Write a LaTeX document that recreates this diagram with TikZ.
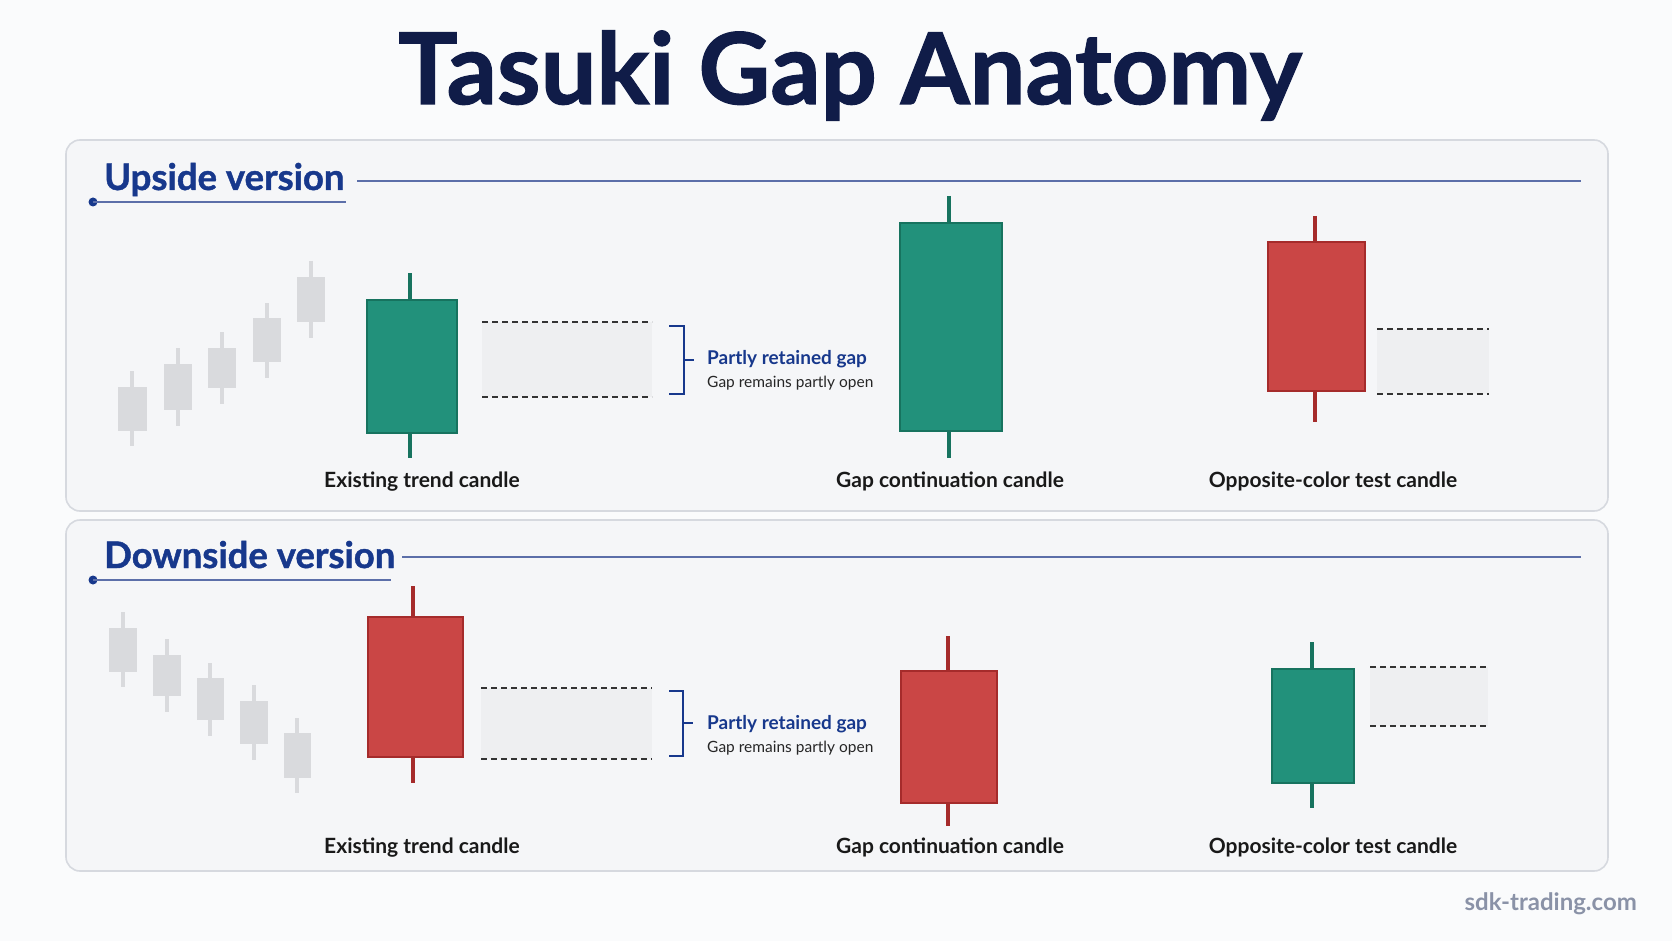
\documentclass[tikz,border=0pt]{standalone}
\usepackage{fontspec}
\setmainfont{Lato}
\newfontfamily\heavyfont{Lato}[BoldFeatures={FakeBold=1.2}]
\usepackage{tikz}
\usetikzlibrary{positioning}
\definecolor{ink}{HTML}{101C48}
\definecolor{navy}{HTML}{17388C}
\definecolor{rulecol}{HTML}{5C6FA9}
\definecolor{bullfill}{HTML}{22917B}
\definecolor{bullline}{HTML}{17735F}
\definecolor{bearfill}{HTML}{CA4645}
\definecolor{bearline}{HTML}{A52B2B}
\definecolor{ghostcol}{HTML}{D9DADD}
\definecolor{gapfill}{HTML}{EEEFF1}
\definecolor{panelfill}{HTML}{F5F6F8}
\definecolor{panelline}{HTML}{D6D9DF}
\definecolor{pagebg}{HTML}{FAFBFC}
\definecolor{markcol}{HTML}{8A92A7}

\begin{document}
\begin{tikzpicture}[
  x=1pt, y=-1pt,
  panel/.style={draw=panelline,fill=panelfill,line width=1.6pt,rounded corners=14pt},
  heading/.style={anchor=base west,inner sep=0pt,text=navy,font=\heavyfont\fontsize{36.5}{40}\selectfont\bfseries},
  hrule/.style={draw=rulecol,line width=1.3pt},
  bull/.style={draw=bullline,fill=bullfill,line width=1.5pt,inner sep=0pt},
  bear/.style={draw=bearline,fill=bearfill,line width=1.5pt,inner sep=0pt},
  bullwick/.style={draw=bullline,line width=4pt},
  bearwick/.style={draw=bearline,line width=4pt},
  ghost/.style={fill=ghostcol},
  ghostwick/.style={draw=ghostcol,line width=4pt},
  gapzone/.style={fill=gapfill},
  gapedge/.style={draw=black!80,line width=1.6pt,dash pattern=on 6pt off 4pt},
  brace/.style={draw=navy,line width=1.8pt},
  gaptitle/.style={anchor=base west,inner sep=0pt,text=navy,font=\fontsize{19}{21}\selectfont\bfseries},
  gapnote/.style={anchor=base west,inner sep=0pt,text=black!85,font=\fontsize{15.5}{17}\selectfont},
  lbl/.style={anchor=base,inner sep=0pt,text=black!90,font=\fontsize{21}{23}\selectfont\bfseries}
]
\useasboundingbox[fill=pagebg] (0,0) rectangle (1672,941);

% title
\node[anchor=base,inner sep=0pt,text=ink,font=\heavyfont\fontsize{99}{104}\selectfont\bfseries]
  (title) at (850,104) {Tasuki Gap Anatomy};

% panels
\path[panel] (66,140) rectangle (1608,511);
\path[panel] (66,520) rectangle (1608,871);

% upside heading
\node[heading] (uphead) at (104,190) {Upside version};
\fill[navy] (93,202) circle (4.5);
\draw[hrule] (93,202) -- (346,202);
\draw[hrule] (357,181) -- (1581,181);

% upside trend candles
\draw[ghostwick] (132,371) -- (132,446); \fill[ghost] (118,387) rectangle (147,431);
\draw[ghostwick] (178,348) -- (178,426); \fill[ghost] (164,364) rectangle (192,410);
\draw[ghostwick] (222,332) -- (222,404); \fill[ghost] (208,348) rectangle (236,388);
\draw[ghostwick] (267,303) -- (267,378); \fill[ghost] (253,318) rectangle (281,362);
\draw[ghostwick] (311,261) -- (311,338); \fill[ghost] (297,277) rectangle (325,322);

% upside candles
\draw[bullwick] (410,273) -- (410,458);
\node[bull,minimum width=90,minimum height=133] (upex) at (412,366.5) {};
\draw[bullwick] (949,196) -- (949,458);
\node[bull,minimum width=102,minimum height=208] (upcont) at (951,327) {};
\draw[bearwick] (1315,216) -- (1315,422);
\node[bear,minimum width=97,minimum height=149] (uptest) at (1316.5,316.5) {};

% upside gaps
\fill[gapzone] (482,322) rectangle (652,397);
\draw[gapedge] (482,322) -- (652,322);
\draw[gapedge] (482,397) -- (652,397);
\fill[gapzone] (1377,329) rectangle (1489,394);
\draw[gapedge] (1377,329) -- (1489,329);
\draw[gapedge] (1377,394) -- (1489,394);

\draw[brace] (669,326) -- (684,326) -- (684,394) -- (669,394);
\draw[brace] (684,360) -- (694,360);
\node[gaptitle] (upgap) at (707,364) {Partly retained gap};
\node[gapnote] (upnote) at (707,387) {Gap remains partly open};

\node[lbl] (uplbl1) at (422,487) {Existing trend candle};
\node[lbl] (uplbl2) at (950,487) {Gap continuation candle};
\node[lbl] (uplbl3) at (1333,487) {Opposite-color test candle};

% downside heading
\node[heading] (dnhead) at (104,568) {Downside version};
\fill[navy] (93,580) circle (4.5);
\draw[hrule] (93,580) -- (391,580);
\draw[hrule] (402,557) -- (1581,557);

% downside trend candles
\draw[ghostwick] (123,612) -- (123,687); \fill[ghost] (109,628) rectangle (137,672);
\draw[ghostwick] (167,639) -- (167,712); \fill[ghost] (153,655) rectangle (181,696);
\draw[ghostwick] (210,663) -- (210,736); \fill[ghost] (197,678) rectangle (224,720);
\draw[ghostwick] (254,685) -- (254,760); \fill[ghost] (240,701) rectangle (268,744);
\draw[ghostwick] (297,718) -- (297,793); \fill[ghost] (284,733) rectangle (311,778);

% downside candles
\draw[bearwick] (413,586) -- (413,783);
\node[bear,minimum width=95,minimum height=140] (dnex) at (415.5,687) {};
\draw[bearwick] (948,636) -- (948,826);
\node[bear,minimum width=96,minimum height=132] (dncont) at (949,737) {};
\draw[bullwick] (1312,642) -- (1312,808);
\node[bull,minimum width=82,minimum height=114] (dntest) at (1313,726) {};

% downside gaps
\fill[gapzone] (481,688) rectangle (652,759);
\draw[gapedge] (481,688) -- (652,688);
\draw[gapedge] (481,759) -- (652,759);
\fill[gapzone] (1370,667) rectangle (1488,726);
\draw[gapedge] (1370,667) -- (1488,667);
\draw[gapedge] (1370,726) -- (1488,726);

\draw[brace] (669,691) -- (683,691) -- (683,756) -- (669,756);
\draw[brace] (683,723) -- (693,723);
\node[gaptitle] (dngap) at (707,729) {Partly retained gap};
\node[gapnote] (dnnote) at (707,752) {Gap remains partly open};

\node[lbl] (dnlbl1) at (422,853) {Existing trend candle};
\node[lbl] (dnlbl2) at (950,853) {Gap continuation candle};
\node[lbl] (dnlbl3) at (1333,853) {Opposite-color test candle};

% watermark
\node[anchor=base east,inner sep=0pt,text=markcol,font=\fontsize{24}{26}\selectfont\bfseries]
  (mark) at (1637,910) {sdk-trading.com};
\end{tikzpicture}
\end{document}
